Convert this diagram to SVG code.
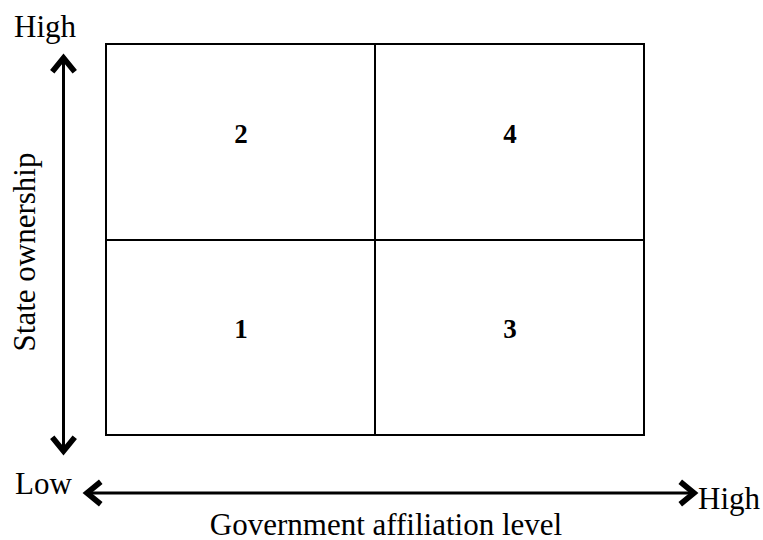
<svg xmlns="http://www.w3.org/2000/svg" width="763" height="540" viewBox="0 0 763 540">
<defs>
<style>
.lbl{font-family:"Liberation Serif","Times New Roman",serif;font-size:31px;fill:#000}
.num{font-family:"Liberation Serif","Times New Roman",serif;font-size:27px;font-weight:bold;fill:#000;text-anchor:middle}
.cell{fill:#fff;stroke:#000;stroke-width:2}
.axis{stroke:#000;stroke-width:3;fill:none}
</style>
<marker id="ah" markerUnits="userSpaceOnUse" markerWidth="30" markerHeight="30" viewBox="-16 -12 20 24" refX="-1" refY="0" orient="auto-start-reverse">
<path d="M-12,-9 L-1,0 L-12,9" fill="none" stroke="#000" stroke-width="4.5" stroke-linejoin="miter"/>
</marker>
</defs>
<rect width="763" height="540" fill="#fff"/>
<g id="q2"><rect class="cell" x="106" y="44" width="269" height="196"/><text class="num" x="241" y="143">2</text></g>
<g id="q4"><rect class="cell" x="375" y="44" width="269" height="196"/><text class="num" x="510" y="143">4</text></g>
<g id="q1"><rect class="cell" x="106" y="240" width="269" height="195"/><text class="num" x="241" y="338">1</text></g>
<g id="q3"><rect class="cell" x="375" y="240" width="269" height="195"/><text class="num" x="510" y="338">3</text></g>
<g id="connectors">
<line class="axis" x1="63.5" y1="58" x2="63.5" y2="451" marker-start="url(#ah)" marker-end="url(#ah)"/>
<line class="axis" x1="87" y1="493" x2="694" y2="493" marker-start="url(#ah)" marker-end="url(#ah)"/>
</g>
<g id="labels">
<text class="lbl" x="14" y="37">High</text>
<text class="lbl" x="15" y="494">Low</text>
<text class="lbl" x="698" y="509">High</text>
<text class="lbl" x="386" y="535" text-anchor="middle">Government affiliation level</text>
<text class="lbl" x="0" y="0" text-anchor="middle" transform="translate(35,252) rotate(-90)">State ownership</text>
</g>
</svg>
